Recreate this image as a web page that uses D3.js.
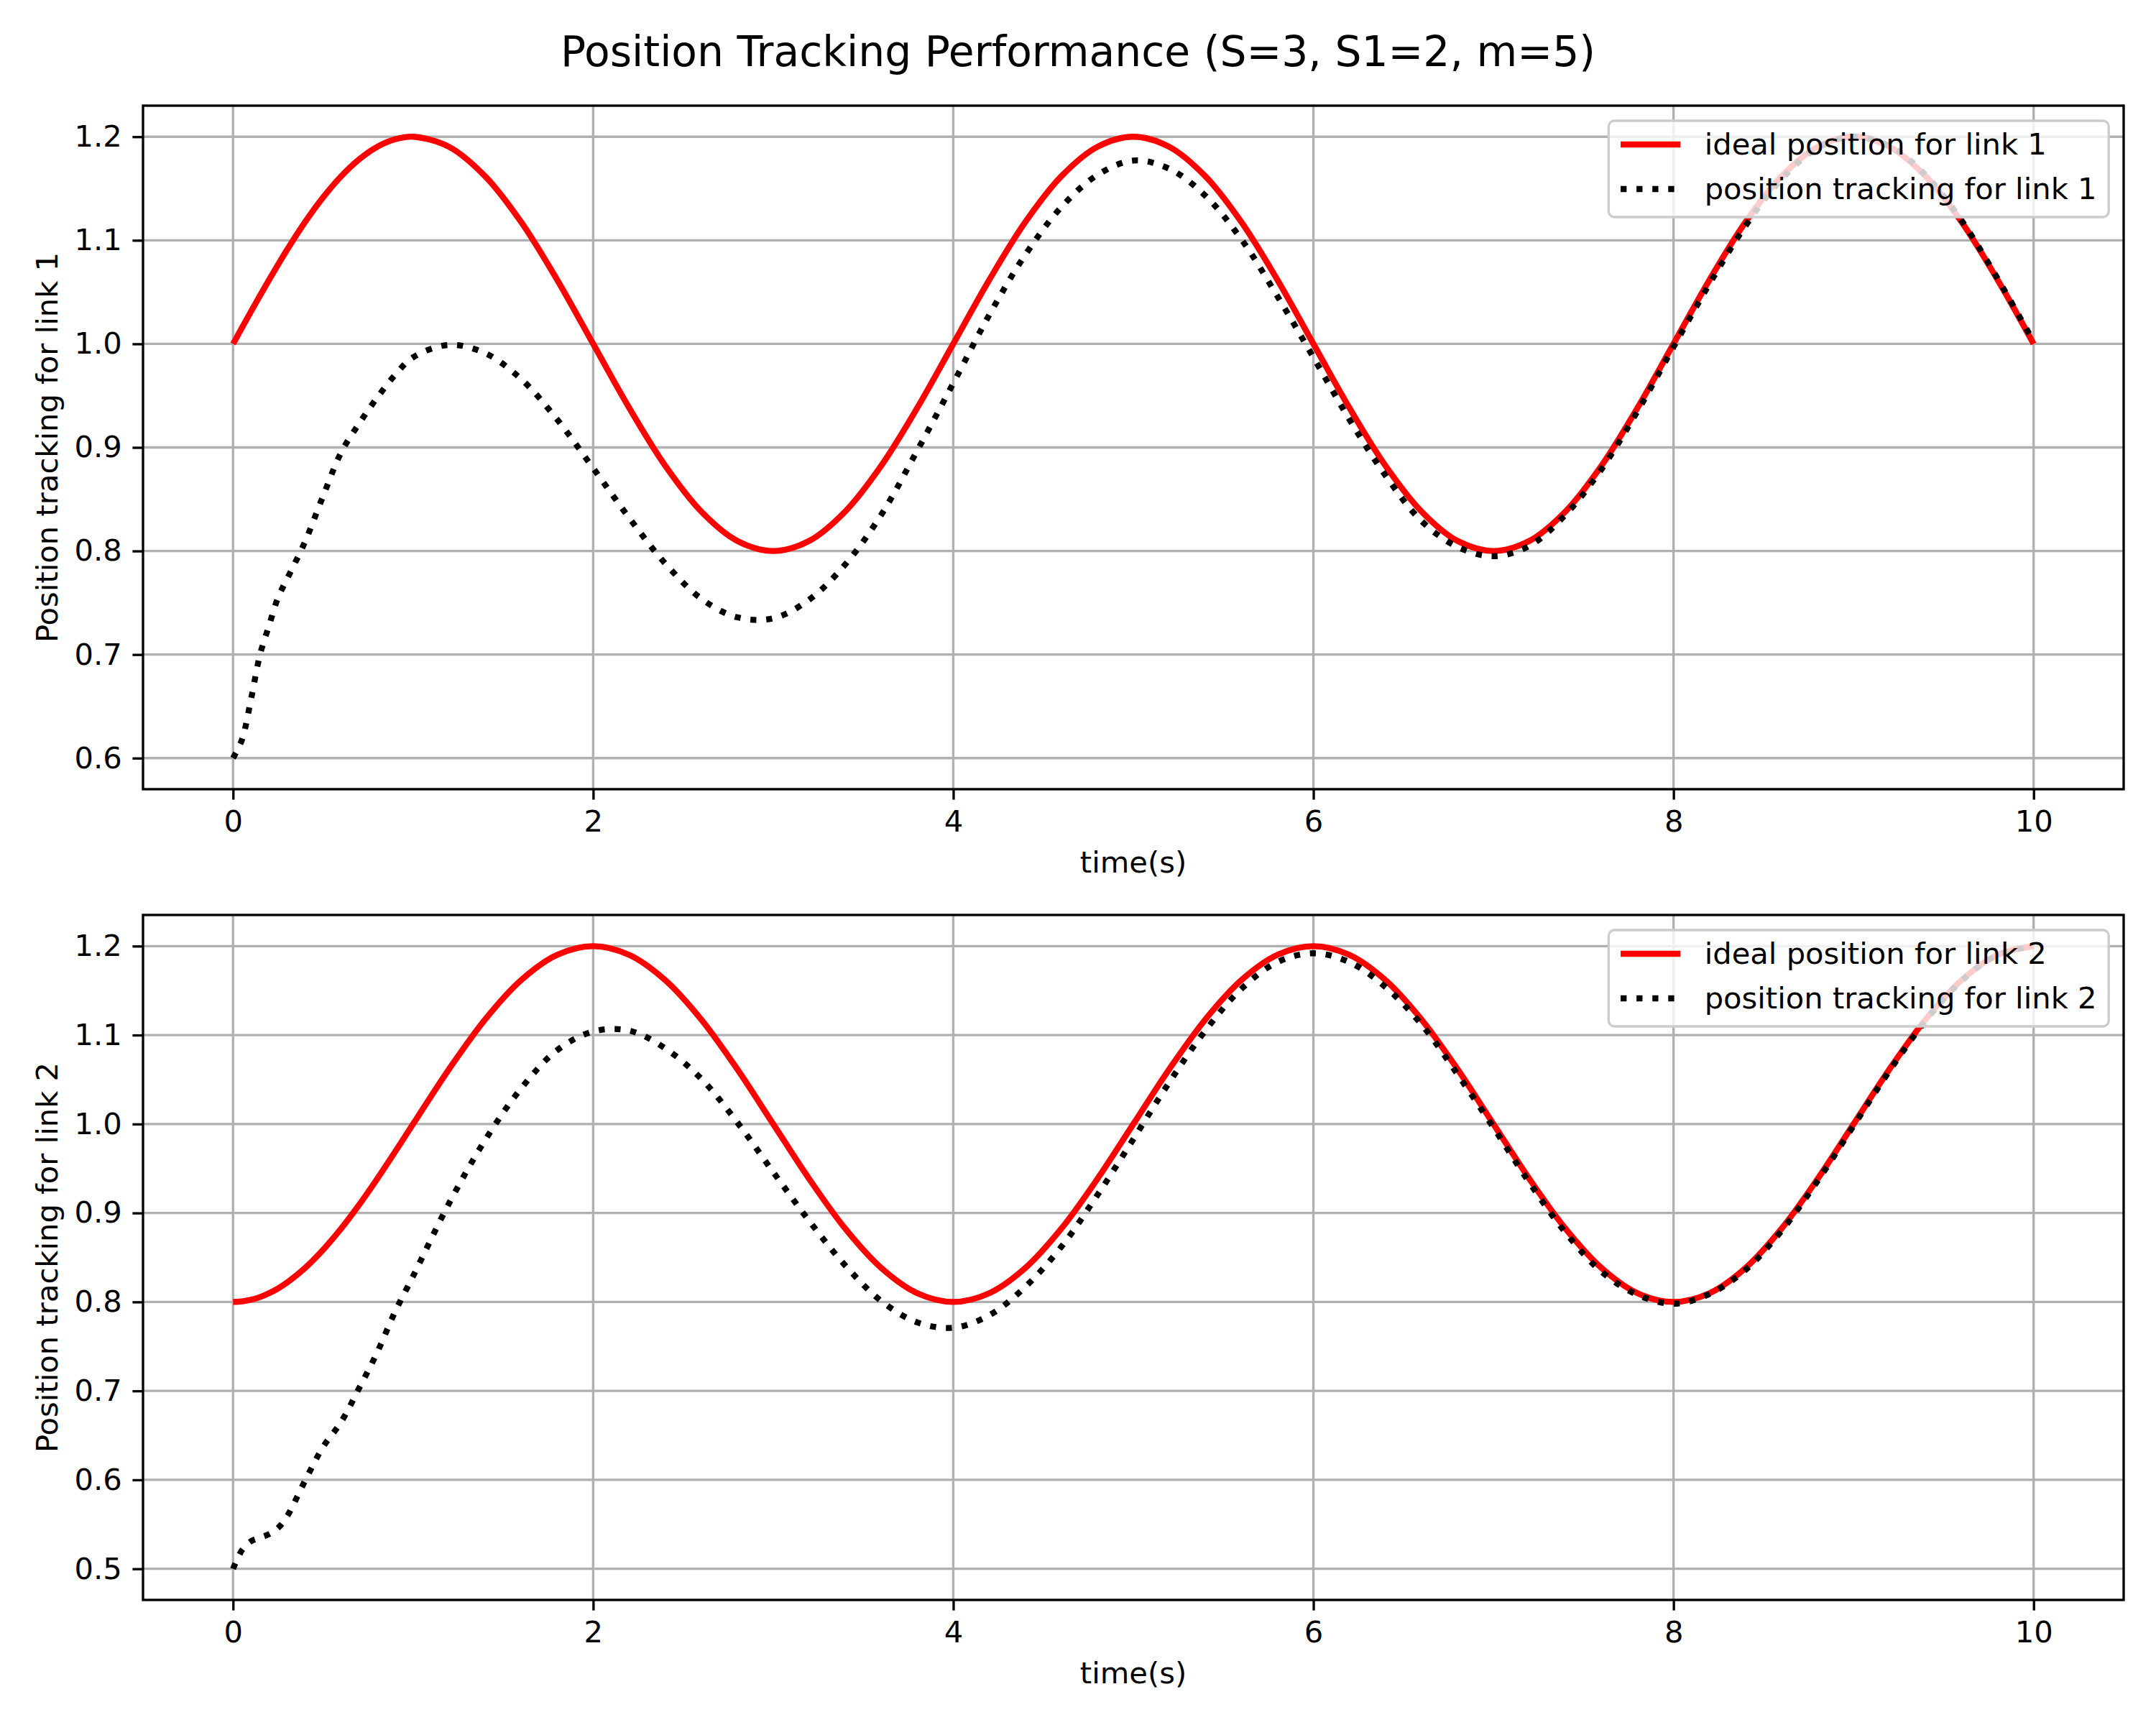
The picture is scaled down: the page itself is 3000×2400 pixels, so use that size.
<!DOCTYPE html>
<html>
<head>
<meta charset="utf-8">
<script src="https://cdn.jsdelivr.net/npm/d3@7"></script>
<style>
body { margin: 0; background: #fff; }
text { font-family: "DejaVu Sans", sans-serif; fill: #000; }
</style>
</head>
<body>
<div id="chart"></div>
<script>
// time samples (s)
var time = [0, 0.05, 0.1, 0.15, 0.2, 0.25, 0.3, 0.4, 0.5, 0.6, 0.7, 0.8, 0.9, 1.0,
  1.2, 1.4, 1.6, 1.8, 2.0, 2.2, 2.4, 2.6, 2.8, 3.0, 3.2, 3.4, 3.6, 3.8, 4.0,
  4.2, 4.4, 4.6, 4.8, 5.0, 5.2, 5.4, 5.6, 5.8, 6.0, 6.2, 6.4, 6.6, 6.8, 7.0,
  7.2, 7.4, 7.6, 7.8, 8.0, 8.2, 8.4, 8.6, 8.8, 9.0, 9.2, 9.4, 9.6, 9.8, 10.0];

// link 1
var ideal1 = [1.0000, 1.0157, 1.0313, 1.0467, 1.0618, 1.0765, 1.0908, 1.1176, 1.1414, 1.1618, 1.1782, 1.1902, 1.1975, 1.2000,
  1.1902, 1.1618, 1.1176, 1.0618, 1.0000, 0.9382, 0.8824, 0.8382, 0.8098, 0.8000, 0.8098, 0.8382, 0.8824, 0.9382, 1.0000,
  1.0618, 1.1176, 1.1618, 1.1902, 1.2000, 1.1902, 1.1618, 1.1176, 1.0618, 1.0000, 0.9382, 0.8824, 0.8382, 0.8098, 0.8000,
  0.8098, 0.8382, 0.8824, 0.9382, 1.0000, 1.0618, 1.1176, 1.1618, 1.1902, 1.2000, 1.1902, 1.1618, 1.1176, 1.0618, 1.0000];
var track1 = [0.600, 0.618, 0.657, 0.700, 0.728, 0.755, 0.773, 0.809, 0.853, 0.895, 0.923, 0.948, 0.970, 0.987,
  0.999, 0.991, 0.966, 0.927, 0.880, 0.832, 0.788, 0.754, 0.736, 0.735, 0.753, 0.787, 0.835, 0.897, 0.962,
  1.028, 1.086, 1.132, 1.163, 1.177, 1.169, 1.143, 1.101, 1.046, 0.987, 0.927, 0.873, 0.829, 0.804, 0.795,
  0.805, 0.835, 0.879, 0.935, 0.997, 1.058, 1.114, 1.159, 1.189, 1.200, 1.191, 1.163, 1.119, 1.063, 1.002];

// link 2
var ideal2 = [0.8000, 0.8006, 0.8025, 0.8055, 0.8098, 0.8152, 0.8218, 0.8382, 0.8586, 0.8824, 0.9092, 0.9382, 0.9687, 1.0000,
  1.0618, 1.1176, 1.1618, 1.1902, 1.2000, 1.1902, 1.1618, 1.1176, 1.0618, 1.0000, 0.9382, 0.8824, 0.8382, 0.8098, 0.8000,
  0.8098, 0.8382, 0.8824, 0.9382, 1.0000, 1.0618, 1.1176, 1.1618, 1.1902, 1.2000, 1.1902, 1.1618, 1.1176, 1.0618, 1.0000,
  0.9382, 0.8824, 0.8382, 0.8098, 0.8000, 0.8098, 0.8382, 0.8824, 0.9382, 1.0000, 1.0618, 1.1176, 1.1618, 1.1902, 1.2000];
var track2 = [0.500, 0.521, 0.531, 0.535, 0.539, 0.546, 0.559, 0.599, 0.637, 0.665, 0.703, 0.743, 0.789, 0.829,
  0.911, 0.982, 1.040, 1.083, 1.104, 1.105, 1.085, 1.051, 1.002, 0.946, 0.891, 0.841, 0.801, 0.777, 0.771,
  0.785, 0.817, 0.862, 0.920, 0.983, 1.047, 1.105, 1.152, 1.182, 1.192, 1.182, 1.154, 1.112, 1.056, 0.996,
  0.934, 0.878, 0.834, 0.808, 0.798, 0.809, 0.836, 0.880, 0.936, 0.998, 1.060, 1.116, 1.161, 1.190, 1.200];

var xTicks = [0, 2, 4, 6, 8, 10];
var yTicks1 = [0.6, 0.7, 0.8, 0.9, 1.0, 1.1, 1.2];
var yTicks2 = [0.5, 0.6, 0.7, 0.8, 0.9, 1.0, 1.1, 1.2];

var W = 3000, H = 2400;
var fs = 41.67;          // 10pt at 300 dpi
var lw = 3.33;           // 0.8pt
var tickLen = 14.6;
var axL = 199, axR = 2955;

var svg = d3.select("#chart").append("svg")
    .attr("width", W)
    .attr("height", H)
    .style("background", "#fff");

svg.append("text")
    .attr("x", 1500)
    .attr("y", 92)
    .attr("text-anchor", "middle")
    .style("font-size", "58.3px")
    .text("Position Tracking Performance (S=3, S1=2, m=5)");

var x = d3.scaleLinear().domain([-0.5, 10.5]).range([axL, axR]);

function panel(top, bottom, yDomain, yTicks, ideal, track, link) {
  var y = d3.scaleLinear().domain(yDomain).range([bottom, top]);
  var g = svg.append("g");

  // grid
  g.selectAll(".gx").data(xTicks).enter().append("line")
      .attr("x1", d => x(d)).attr("x2", d => x(d))
      .attr("y1", top).attr("y2", bottom)
      .attr("stroke", "#b0b0b0").attr("stroke-width", lw);
  g.selectAll(".gy").data(yTicks).enter().append("line")
      .attr("x1", axL).attr("x2", axR)
      .attr("y1", d => y(d)).attr("y2", d => y(d))
      .attr("stroke", "#b0b0b0").attr("stroke-width", lw);

  var line = d3.line()
      .x(function(d, i) { return x(time[i]); })
      .y(function(d) { return y(d); })
      .curve(d3.curveCatmullRom.alpha(0.5));

  g.append("path").datum(ideal)
      .attr("d", line)
      .attr("fill", "none")
      .attr("stroke", "#ff0000")
      .attr("stroke-width", 8.33)
      .attr("stroke-linejoin", "round");

  g.append("path").datum(track)
      .attr("d", line)
      .attr("fill", "none")
      .attr("stroke", "#000")
      .attr("stroke-width", 8.33)
      .attr("stroke-dasharray", "8.33,13.75")
      .attr("stroke-linejoin", "round");

  // axes
  var xAxis = d3.axisBottom(x).tickValues(xTicks).tickFormat(d3.format("d"))
      .tickSize(tickLen).tickPadding(14.6);
  var yAxis = d3.axisLeft(y).tickValues(yTicks).tickFormat(d3.format(".1f"))
      .tickSize(tickLen).tickPadding(14.6);

  var gx = g.append("g").attr("transform", "translate(0," + bottom + ")").call(xAxis);
  var gy = g.append("g").attr("transform", "translate(" + axL + ",0)").call(yAxis);
  [gx, gy].forEach(function(a) {
    a.select(".domain").remove();
    a.selectAll("line").attr("stroke", "#000").attr("stroke-width", lw);
    a.selectAll("text").style("font-size", fs + "px").attr("fill", "#000")
        .style("font-family", "DejaVu Sans");
  });

  // frame
  g.append("rect")
      .attr("x", axL).attr("y", top)
      .attr("width", axR - axL).attr("height", bottom - top)
      .attr("fill", "none").attr("stroke", "#000").attr("stroke-width", lw);

  // labels
  g.append("text")
      .attr("x", (axL + axR) / 2)
      .attr("y", bottom + 116)
      .attr("text-anchor", "middle")
      .style("font-size", fs + "px")
      .text("time(s)");
  g.append("text")
      .attr("transform", "translate(80," + ((top + bottom) / 2) + ") rotate(-90)")
      .attr("text-anchor", "middle")
      .style("font-size", fs + "px")
      .text("Position tracking for link " + link);

  // legend
  var labels = ["ideal position for link " + link, "position tracking for link " + link];
  var lg = g.append("g");
  var box = lg.append("rect");
  var texts = lg.selectAll(".lt").data(labels).enter().append("text")
      .style("font-size", fs + "px")
      .text(d => d);
  var tw = d3.max(texts.nodes(), n => n.getComputedTextLength());
  var boxR = axR - 20.8, boxT = top + 21;
  var boxW = 16.7 + 83.3 + 33.3 + tw + 16.7;
  var boxL = boxR - boxW;
  box.attr("x", boxL).attr("y", boxT)
      .attr("width", boxW).attr("height", 134)
      .attr("rx", 8).attr("ry", 8)
      .attr("fill", "#fff").attr("fill-opacity", 0.8)
      .attr("stroke", "#cccccc").attr("stroke-width", lw);
  texts.attr("x", boxL + 16.7 + 83.3 + 33.3)
      .attr("y", (d, i) => boxT + 47 + i * 61.5);
  lg.append("line")
      .attr("x1", boxL + 16.7).attr("x2", boxL + 16.7 + 83.3)
      .attr("y1", boxT + 33).attr("y2", boxT + 33)
      .attr("stroke", "#ff0000").attr("stroke-width", 8.33);
  lg.append("line")
      .attr("x1", boxL + 16.7).attr("x2", boxL + 16.7 + 83.3)
      .attr("y1", boxT + 95).attr("y2", boxT + 95)
      .attr("stroke", "#000").attr("stroke-width", 8.33)
      .attr("stroke-dasharray", "8.33,13.75");
}

panel(147, 1098, [0.57, 1.23], yTicks1, ideal1, track1, 1);
panel(1273, 2226, [0.465, 1.235], yTicks2, ideal2, track2, 2);
</script>
</body>
</html>
